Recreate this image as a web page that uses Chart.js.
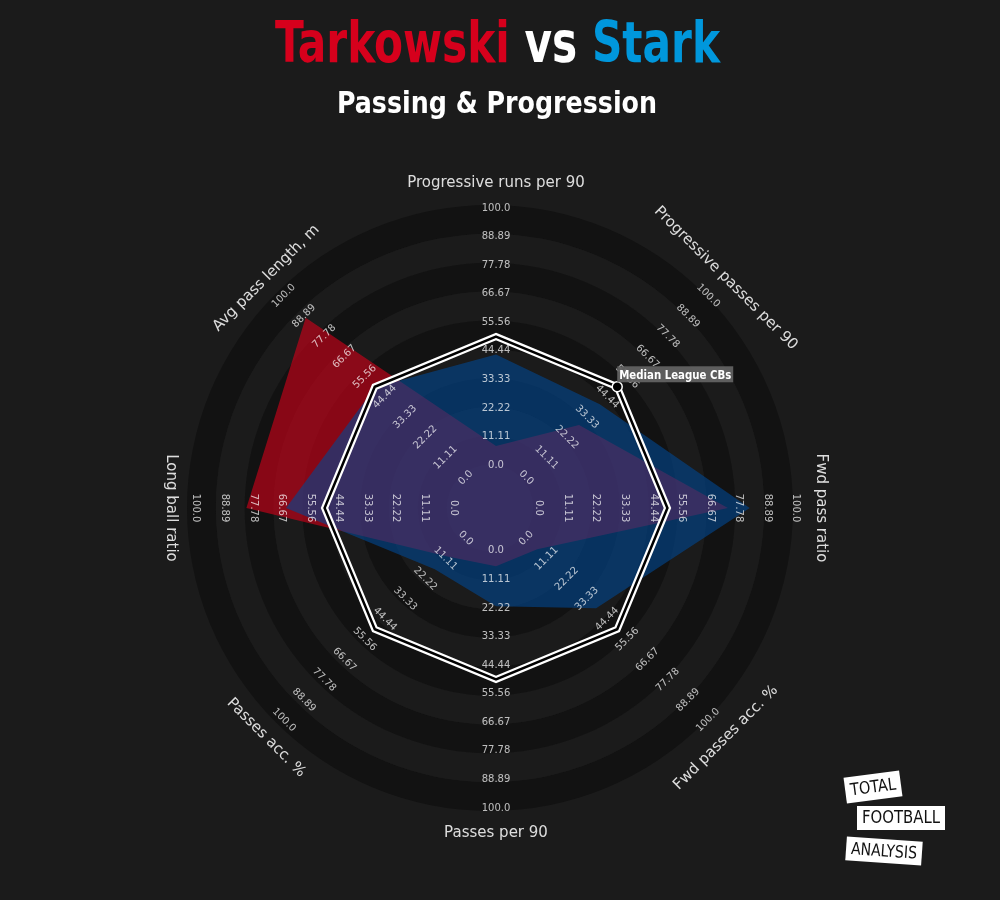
<!DOCTYPE html>
<html>
<head>
<meta charset="utf-8">
<script src="https://cdn.jsdelivr.net/npm/chart.js@4.4.1/dist/chart.umd.min.js"></script>
<style>
  html, body { margin: 0; padding: 0; background: #1b1b1b; }
  canvas { display: block; }
</style>
</head>
<body>
<canvas id="radar" width="1000" height="900"></canvas>
<script>
// axes, clockwise from the top
const metrics = ['Progressive runs per 90', 'Progressive passes per 90', 'Fwd pass ratio',
  'Fwd passes acc. %', 'Passes per 90', 'Passes acc. %', 'Long ball ratio', 'Avg pass length, m'];
const tarkowski = [7.4, 29, 73.5, 6, 6, 10, 80.4, 88];
const stark = [43, 40.4, 82, 38.4, 21.5, 17, 65, 49.8];
const medianCBs = [50, 50, 50, 50, 50, 50, 50, 50];
const ringValues = [0, 11.11, 22.22, 33.33, 44.44, 55.56, 66.67, 77.78, 88.89, 100];
const ringLabels = ['0.0', '11.11', '22.22', '33.33', '44.44', '55.56', '66.67', '77.78', '88.89', '100.0'];

const BG = '#1b1b1b';
const BAND_DARK = '#121212';
const BAND_LIGHT = '#1b1b1b';
const CONDENSED = '"DejaVu Sans Condensed", "DejaVu Sans", sans-serif';

// same rotation rule for tick labels and axis titles
function labelRotation(i) {
    let deg = (i * 360 / metrics.length) % 180;
    if (deg > 90) deg -= 180;
    return deg * Math.PI / 180;
}

// draw text squeezed/stretched to a given width
function fillFit(ctx, text, x, y, width) {
    const w = ctx.measureText(text).width;
    ctx.save();
    ctx.translate(x, y);
    ctx.scale(width / w, 1);
    ctx.fillText(text, 0, 0);
    ctx.restore();
}

function drawTicks(chart) {
    const s = chart.scales.r, ctx = chart.ctx;
    ctx.save();
    ctx.font = '10px "DejaVu Sans", sans-serif';
    ctx.fillStyle = 'rgba(255,255,255,0.72)';
    ctx.textAlign = 'center';
    ctx.textBaseline = 'middle';
    metrics.forEach((m, i) => {
        const rot = labelRotation(i);
        ringValues.forEach((v, j) => {
            const p = s.getPointPositionForValue(i, v);
            ctx.save();
            ctx.translate(p.x, p.y);
            ctx.rotate(rot);
            ctx.fillText(ringLabels[j], 0, 0);
            ctx.restore();
        });
    });
    ctx.restore();
}

function drawLogo(ctx) {
    const boxes = [
        { text: 'TOTAL', x: 873, y: 787, w: 56, h: 26, rot: -7.5 },
        { text: 'FOOTBALL', x: 901, y: 818, w: 88, h: 24, rot: 0 },
        { text: 'ANALYSIS', x: 884, y: 851, w: 76, h: 24, rot: 4 }
    ];
    boxes.forEach(b => {
        ctx.save();
        ctx.translate(b.x, b.y);
        ctx.rotate(b.rot * Math.PI / 180);
        ctx.fillStyle = '#ffffff';
        ctx.fillRect(-b.w / 2, -b.h / 2, b.w, b.h);
        ctx.fillStyle = '#111111';
        ctx.font = '17px ' + CONDENSED;
        ctx.textBaseline = 'middle';
        fillFit(ctx, b.text, -b.w / 2 + 5, 1, b.w - 10);
        ctx.restore();
    });
}

const radarDecor = {
    id: 'radarDecor',
    beforeDraw(chart) {
        const ctx = chart.ctx, s = chart.scales.r;
        ctx.save();
        ctx.fillStyle = BG;
        ctx.fillRect(0, 0, chart.width, chart.height);
        // ring bands sit a few px left of the polygon centre in the original
        const cx = s.xCenter - 6, cy = s.yCenter;
        for (let i = ringValues.length - 1; i > 0; i--) {
            const outer = s.getDistanceFromCenterForValue(ringValues[i]) * 1.01;
            const inner = s.getDistanceFromCenterForValue(ringValues[i - 1]) * 1.01;
            ctx.beginPath();
            ctx.arc(cx, cy, outer, 0, 2 * Math.PI);
            ctx.arc(cx, cy, inner, 0, 2 * Math.PI, true);
            ctx.fillStyle = (ringValues.length - 1 - i) % 2 === 0 ? BAND_DARK : BAND_LIGHT;
            ctx.fill();
        }
        // axis titles
        ctx.font = '15px "DejaVu Sans", sans-serif';
        ctx.fillStyle = 'rgba(255,255,255,0.85)';
        ctx.textAlign = 'center';
        ctx.textBaseline = 'middle';
        metrics.forEach((m, i) => {
            const p = s.getPointPosition(i, s.drawingArea + 25);
            ctx.save();
            ctx.translate(p.x, p.y);
            ctx.rotate(labelRotation(i));
            ctx.fillText(m, 0, 0);
            ctx.restore();
        });
        ctx.restore();
    },
    beforeDatasetDraw(chart, args) {
        if (args.index === 2) drawTicks(chart);
    },
    afterDraw(chart) {
        const ctx = chart.ctx;
        ctx.save();
        // median marker label
        const pt = chart.getDatasetMeta(3).data[1];
        ctx.fillStyle = 'rgba(100,100,100,0.92)';
        ctx.fillRect(pt.x, pt.y - 20.5, 116, 16);
        ctx.fillStyle = '#ffffff';
        ctx.font = 'bold 12px ' + CONDENSED;
        ctx.textBaseline = 'alphabetic';
        fillFit(ctx, 'Median League CBs', pt.x + 2, pt.y - 8, 112);

        // title
        ctx.font = 'bold 57px ' + CONDENSED;
        const parts = [['Tarkowski', '#d6001c'], [' vs ', '#ffffff'], ['Stark', '#0097dc']];
        const total = parts.reduce((a, p) => a + ctx.measureText(p[0]).width, 0);
        const k = 445 / total;
        ctx.save();
        ctx.translate(275, 62);
        ctx.scale(k, 1);
        let x = 0;
        parts.forEach(p => {
            ctx.fillStyle = p[1];
            ctx.fillText(p[0], x, 0);
            x += ctx.measureText(p[0]).width;
        });
        ctx.restore();

        // subtitle
        ctx.font = 'bold 30px ' + CONDENSED;
        ctx.fillStyle = '#ffffff';
        fillFit(ctx, 'Passing & Progression', 337, 113, 320);

        drawLogo(ctx);
        ctx.restore();
    }
};

new Chart(document.getElementById('radar'), {
    type: 'radar',
    data: {
        labels: metrics,
        datasets: [
            {
                label: 'Tarkowski',
                data: tarkowski,
                backgroundColor: 'rgba(215,0,25,0.6)',
                borderColor: 'transparent',
                borderWidth: 0,
                pointRadius: 0,
                fill: 'start',
                order: 4
            },
            {
                label: 'Stark',
                data: stark,
                backgroundColor: 'rgba(0,72,146,0.6)',
                borderColor: 'transparent',
                borderWidth: 0,
                pointRadius: 0,
                fill: 'start',
                order: 3
            },
            {
                label: 'Median outline',
                data: medianCBs,
                borderColor: '#ffffff',
                borderWidth: 7,
                borderJoinStyle: 'miter',
                pointRadius: 0,
                fill: false,
                order: 2
            },
            {
                label: 'Median League CBs',
                data: medianCBs,
                borderColor: '#000000',
                borderWidth: 2.5,
                borderJoinStyle: 'miter',
                pointRadius: [0, 5, 0, 0, 0, 0, 0, 0],
                pointBackgroundColor: '#000000',
                pointBorderColor: '#ffffff',
                pointBorderWidth: 1.5,
                fill: false,
                order: 1
            }
        ]
    },
    options: {
        responsive: false,
        animation: false,
        events: [],
        layout: { padding: { left: 196, right: 204, top: 208, bottom: 92 } },
        plugins: {
            legend: { display: false },
            tooltip: { enabled: false }
        },
        scales: {
            r: {
                min: -16.67,
                max: 100,
                ticks: { display: false },
                grid: { display: false },
                angleLines: { display: false },
                pointLabels: { display: false }
            }
        }
    },
    plugins: [radarDecor]
});
</script>
</body>
</html>
